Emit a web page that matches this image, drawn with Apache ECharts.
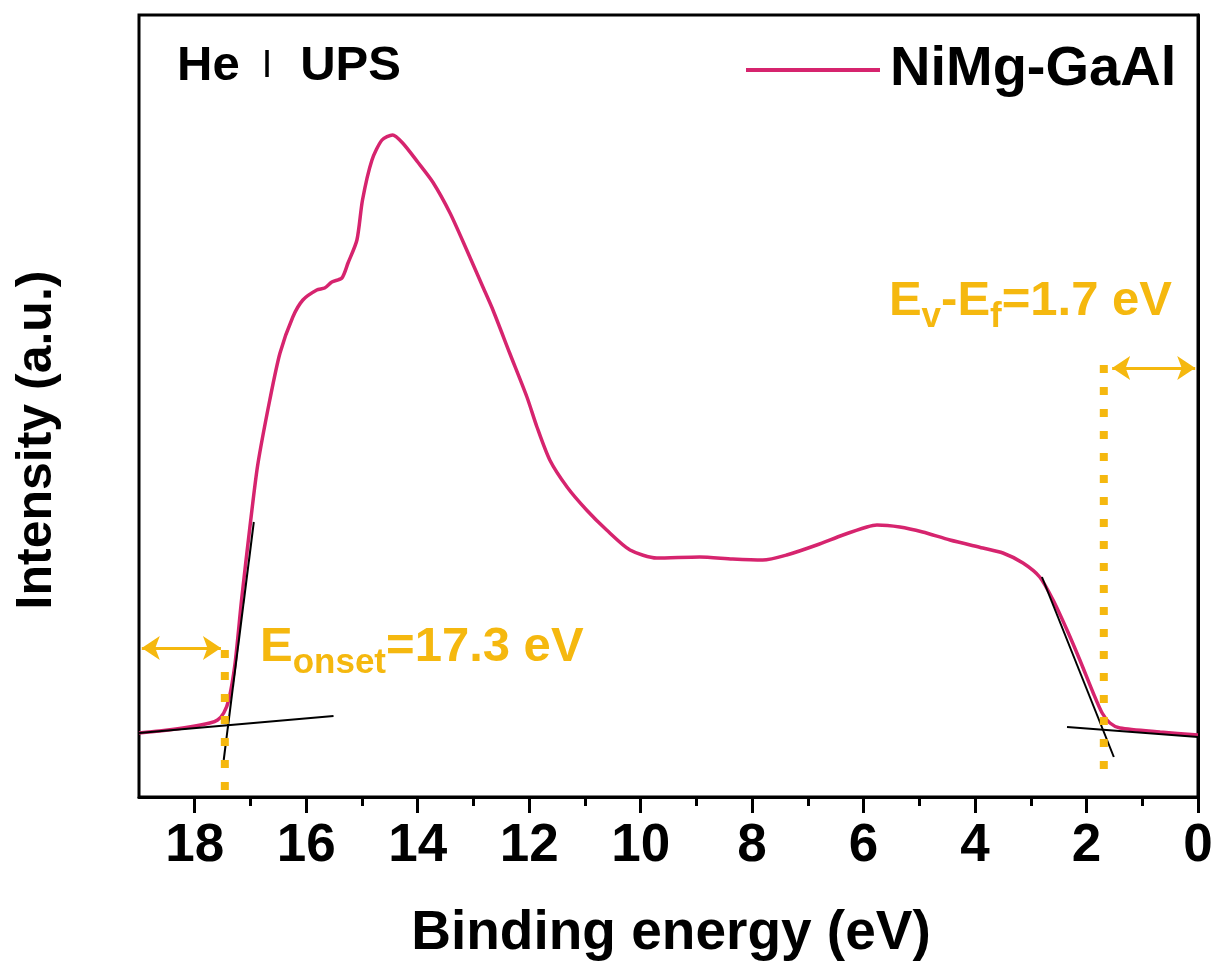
<!DOCTYPE html>
<html><head><meta charset="utf-8">
<script src="https://cdn.jsdelivr.net/npm/echarts@6/dist/echarts.min.js"></script>
<style>html,body{margin:0;padding:0;background:#fff}#c{width:1217px;height:969px}</style>
</head><body><div id="c"></div>
<script>
// Binding energy (eV) and intensity (a.u.)
const energy = [19.0, 18.63, 18.10, 17.73, 17.59, 17.48, 17.39, 17.28, 17.16, 17.01, 16.87, 16.65, 16.47, 16.24, 16.06, 15.81, 15.67, 15.54, 15.36, 15.25, 15.09, 14.99, 14.82, 14.64, 14.45, 14.27, 14.00, 13.73, 13.42, 13.12, 12.83, 12.65, 12.35, 12.04, 11.86, 11.63, 11.32, 10.97, 10.61, 10.19, 9.71, 8.94, 8.35, 7.81, 7.38, 6.84, 6.37, 5.94, 5.76, 5.35, 4.94, 4.45, 3.86, 3.50, 3.14, 2.84, 2.60, 2.35, 2.12, 1.88, 1.72, 1.58, 1.40, 0.68, 0.0];
const intensity = [64, 66, 70, 74, 77, 84, 97, 132, 197, 270, 332, 398, 444, 480, 497, 507, 509, 515, 519, 534, 557, 597, 637, 657, 662, 654, 635, 615, 584, 547, 510, 487, 444, 400, 370, 337, 310, 287, 267, 247, 239, 240, 238, 237, 242, 252, 262, 270, 272, 270, 265, 257, 249, 244, 234, 220, 197, 167, 137, 104, 84, 74, 69, 65, 62];
const xTicks = [0, 2, 4, 6, 8, 10, 12, 14, 16, 18];
const xMinorTicks = [1, 3, 5, 7, 9, 11, 13, 15, 17];
// tangent-fit lines and guides
const onsetFitSteep = [[16.94, 275], [17.48, 37]];
const onsetFitBase = [[19.0, 64], [15.51, 81]];
const edgeFitSteep = [[2.80, 220], [1.51, 40]];
const edgeFitBase = [[2.35, 70], [0.0, 60]];
const onsetGuide = [[17.46, 147], [17.46, 5]];
const edgeGuide = [[1.69, 432], [1.69, 19]];
const onsetArrow = [[18.95, 149], [17.53, 149]];
const edgeArrow = [[1.54, 429], [0.05, 429]];

const PINK = '#D6246E';
const ORANGE = '#F5B80F';
const FONT = 'Liberation Sans, Arial, sans-serif';

const chart = echarts.init(document.getElementById('c'), null, {renderer: 'canvas'});

const fitLine = (data) => ({
  type: 'line', data: data, symbol: 'none', silent: true, z: 3,
  lineStyle: {color: '#000', width: 2}, itemStyle: {color: '#000'}
});
const guideLine = (data) => ({
  type: 'line', data: data, symbol: 'none', silent: true, z: 4,
  lineStyle: {color: ORANGE, width: 8, type: [8, 14], cap: 'butt'}, itemStyle: {color: ORANGE}
});

const bigSub = {
  big: {fontSize: 49, fontWeight: 'bold', fill: ORANGE, fontFamily: FONT, lineHeight: 50, padding: [0, 0, 16, 0]},
  sub: {fontSize: 35, fontWeight: 'bold', fill: ORANGE, fontFamily: FONT, lineHeight: 50, padding: [16, 0, 0, 0]}
};

chart.setOption({
  animation: false,
  backgroundColor: '#fff',
  grid: {left: 139, right: 19, top: 15, bottom: 172, show: true, borderColor: '#000', borderWidth: 3, containLabel: false},
  legend: {
    data: ['NiMg-GaAl'], left: 746, top: 42, padding: 0,
    icon: 'rect', itemWidth: 134, itemHeight: 4,
    textStyle: {fontSize: 56, fontWeight: 'bold', color: '#000', fontFamily: FONT, padding: [0, 0, 0, 5]}
  },
  xAxis: [{
    type: 'value', min: 0, max: 19, interval: 2, inverse: true,
    axisLine: {show: true, lineStyle: {color: '#000', width: 3}},
    axisTick: {show: true, customValues: xTicks, length: 16, inside: false, lineStyle: {color: '#000', width: 3}},
    axisLabel: {customValues: xTicks, fontSize: 53, fontWeight: 'bold', color: '#000', fontFamily: FONT, margin: 23},
    splitLine: {show: false}
  }, {
    type: 'value', min: 0, max: 19, interval: 2, inverse: true, position: 'bottom', gridIndex: 0,
    axisLine: {show: false},
    axisTick: {show: true, customValues: xMinorTicks, length: 9, inside: false, lineStyle: {color: '#000', width: 3}},
    axisLabel: {show: false},
    splitLine: {show: false}
  }],
  yAxis: {
    type: 'value', min: 0, max: 782,
    axisLine: {show: true, lineStyle: {color: '#000', width: 3}},
    axisTick: {show: false}, axisLabel: {show: false}, splitLine: {show: false}
  },
  series: [
    {
      name: 'NiMg-GaAl', type: 'line', symbol: 'none', z: 2, smooth: 0.25,
      data: energy.map((e, i) => [e, intensity[i]]),
      lineStyle: {color: PINK, width: 3.5}, itemStyle: {color: PINK}
    },
    fitLine(onsetFitSteep), fitLine(onsetFitBase), fitLine(edgeFitSteep), fitLine(edgeFitBase),
    guideLine(onsetGuide), guideLine(edgeGuide),
    {
      type: 'lines', coordinateSystem: 'cartesian2d', silent: true, z: 5,
      symbol: ['arrow', 'arrow'], symbolSize: 18,
      lineStyle: {color: ORANGE, width: 3, opacity: 1},
      data: [{coords: onsetArrow}, {coords: edgeArrow}]
    }
  ],
  graphic: [
    {type: 'text', left: 177, top: 42, z: 10, style: {
      text: '{b|He}{t|I}{b|UPS}',
      rich: {
        b: {fontSize: 49, fontWeight: 'bold', fontFamily: FONT, fill: '#000'},
        t: {fontSize: 38, fontWeight: 'normal', fontFamily: FONT, fill: '#000', padding: [0, 28, 0, 22]}
      }
    }},
    {type: 'text', x: 37, y: 440, rotation: Math.PI / 2, z: 10, style: {
      text: 'Intensity (a.u.)', fontSize: 50, fontWeight: 'bold', fontFamily: FONT, fill: '#000',
      align: 'center', verticalAlign: 'middle'
    }},
    {type: 'text', x: 671, y: 934, z: 10, style: {
      text: 'Binding energy (eV)', fontSize: 55, fontWeight: 'bold', fontFamily: FONT, fill: '#000',
      align: 'center', verticalAlign: 'middle'
    }},
    {type: 'text', x: 260, y: 630, z: 10, style: {
      text: '{big|E}{sub|onset}{big|=17.3 eV}', rich: bigSub, align: 'left', verticalAlign: 'top'
    }},
    {type: 'text', x: 1172, y: 284, z: 10, style: {
      text: '{big|E}{sub|v}{big|-E}{sub|f}{big|=1.7 eV}', rich: bigSub, align: 'right', verticalAlign: 'top'
    }}
  ]
});
</script>
</body></html>
